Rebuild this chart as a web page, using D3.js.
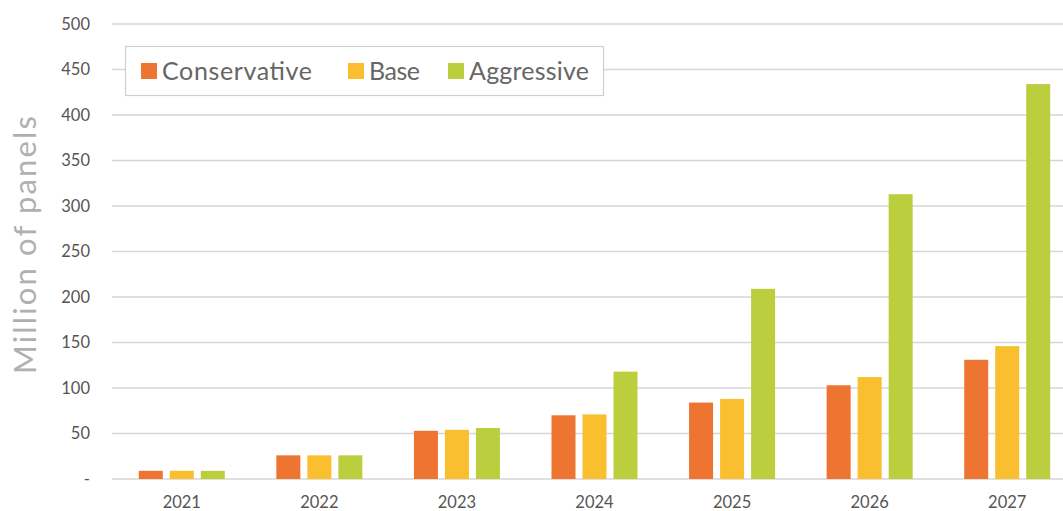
<!DOCTYPE html>
<html><head><meta charset="utf-8">
<script src="https://cdn.jsdelivr.net/npm/d3@7"></script>
<style>
html,body{margin:0;padding:0;background:#fff;}
svg{display:block;font-family:Lato,"Open Sans",sans-serif;}
</style></head>
<body>
<svg id="chart" width="1063" height="511"></svg>
<script>
const years = ["2021","2022","2023","2024","2025","2026","2027"];
const seriesNames = ["Conservative","Base","Aggressive"];
const conservative = [9, 26, 53, 70, 84, 103, 131];
const base = [9, 26, 54, 71, 88, 112, 146];
const aggressive = [9, 26, 56, 118, 209, 313, 434];
const yTicks = [0,50,100,150,200,250,300,350,400,450,500];
const colors = ["#ED7431","#F9BF2F","#BBCF3E"];
const yTitle = "Million of panels";

const values = [conservative, base, aggressive];
const svg = d3.select("#chart");
const W = 1063;

const y = d3.scaleLinear().domain([0,500]).range([479,24]);
const x0 = d3.scaleBand().domain(years).range([113,1076]).padding(0);
const x1 = d3.scaleBand().domain(seriesNames).range([-43,43]).paddingInner(7/31).paddingOuter(0);

// gridlines
svg.append("g").selectAll("line").data(yTicks).join("line")
  .attr("x1",112).attr("x2",W)
  .attr("y1",d=>y(d)).attr("y2",d=>y(d))
  .attr("stroke","#d6d6d6").attr("stroke-width",1.5);

// y axis labels
const yAxis = d3.axisLeft(y).tickValues(yTicks).tickSize(0).tickPadding(0)
  .tickFormat(d => d===0 ? "-" : String(d));
const gy = svg.append("g").attr("transform","translate(90,0)").call(yAxis);
gy.select(".domain").remove();
gy.selectAll("text").attr("font-size",16.5).attr("fill","#555")
  .attr("font-family","Lato,sans-serif");

// x axis labels
const xAxis = d3.axisBottom(x0).tickSize(0).tickPadding(0);
const gx = svg.append("g").attr("transform","translate(0,496)").call(xAxis);
gx.select(".domain").remove();
gx.selectAll("text").attr("font-size",16.5).attr("fill","#555")
  .attr("font-family","Lato,sans-serif");

// bars
const groups = svg.append("g").selectAll("g").data(years).join("g")
  .attr("transform",d=>`translate(${x0(d)+x0.bandwidth()/2},0)`);
groups.selectAll("rect").data((d,i)=>seriesNames.map((s,j)=>({s, v: values[j][i], c: colors[j]})))
  .join("rect")
  .attr("x",d=>x1(d.s)).attr("width",x1.bandwidth())
  .attr("y",d=>y(d.v)).attr("height",d=>y(0)-y(d.v))
  .attr("fill",d=>d.c);

// y title
svg.append("text")
  .attr("transform","translate(36,245) rotate(-90)")
  .attr("text-anchor","middle")
  .attr("font-size",31).attr("fill","#b0b0b0")
  .attr("font-family","Lato,sans-serif")
  .attr("textLength",258).attr("lengthAdjust","spacing")
  .text(yTitle);

// legend
const lg = svg.append("g");
lg.append("rect").attr("x",125.5).attr("y",46.5).attr("width",478).attr("height",49)
  .attr("fill","#fff").attr("stroke","#cfcfcf").attr("stroke-width",1.2);
const legendX = [141, 348, 448];
const legendLen = [150, 51, 120];
seriesNames.forEach((s,i)=>{
  lg.append("rect").attr("x",legendX[i]).attr("y",63).attr("width",16).attr("height",16).attr("fill",colors[i]);
  lg.append("text").attr("x",legendX[i]+21).attr("y",80)
    .attr("font-size",25).attr("fill","#666")
    .attr("font-family","Lato,sans-serif")
    .attr("textLength",legendLen[i]).attr("lengthAdjust","spacing")
    .text(s);
});
</script>
</body></html>
